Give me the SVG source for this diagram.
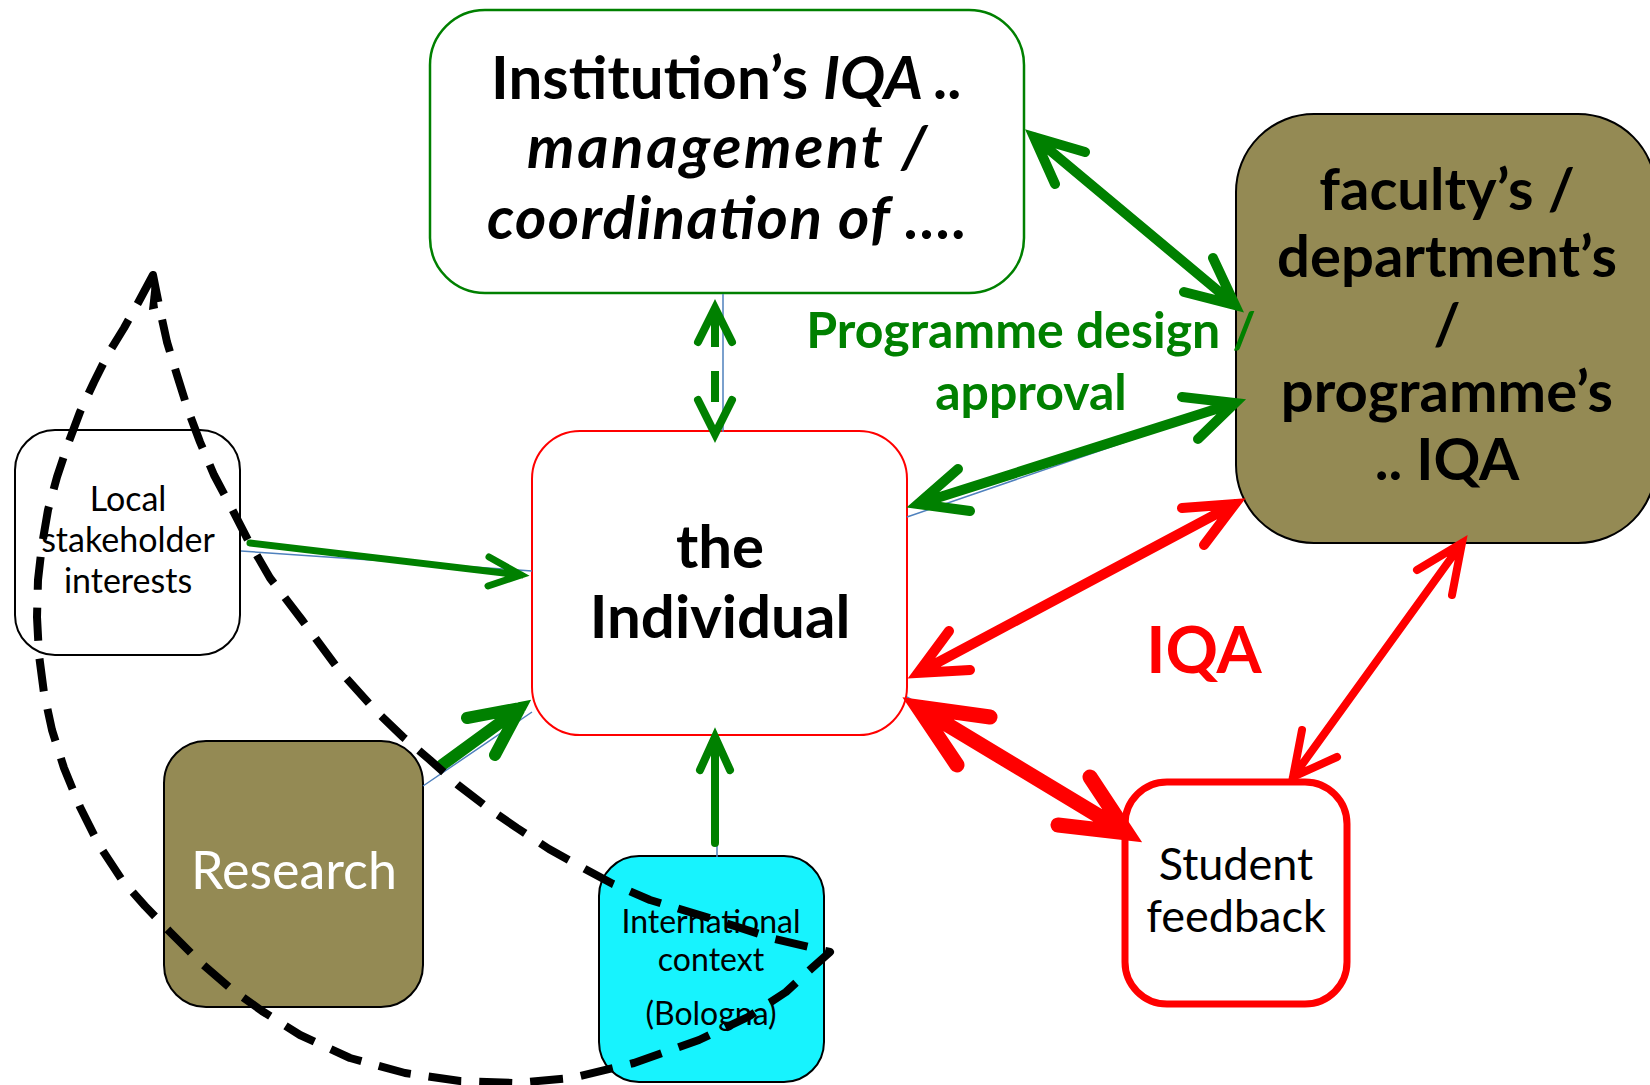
<svg xmlns="http://www.w3.org/2000/svg" width="1650" height="1085" viewBox="0 0 1650 1085">
<style>
text{font-family:Lato,"Liberation Sans",sans-serif;text-anchor:middle}
.i{font-style:italic}
.big{font-size:60px;font-weight:bold;fill:#000}
.fac{font-size:58px;font-weight:bold;fill:#000}
.sm{font-size:34px;fill:#000}
.intl{font-size:32px;fill:#000}
.stu{font-size:45px;fill:#000}
.lbl{font-size:50px;font-weight:bold;fill:#008000}
.node{stroke-width:2}
.olive{fill:#948A54;stroke:#000}
.blue{stroke:#4F81BD;stroke-width:1.5;fill:none}
.ag{stroke:#008000;fill:none;stroke-linecap:round;stroke-linejoin:miter;stroke-miterlimit:10}
.ar{stroke:#FF0000;fill:none;stroke-linecap:round;stroke-linejoin:miter;stroke-miterlimit:10}
.dash{stroke:#008000;stroke-width:8;stroke-linecap:butt;fill:none}
.curve{fill:none;stroke:#000;stroke-width:8;stroke-dasharray:33 18;stroke-linejoin:round}
</style>
<rect width="1650" height="1085" fill="#fff"/>

<g id="institution">
<rect x="430" y="10" width="594" height="283" rx="55" fill="#fff" stroke="#008000" stroke-width="2.5"/>
<text x="727" y="99" class="big" textLength="472">Institution’s <tspan class="i">IQA ..</tspan></text>
<text x="727" y="168" class="big i" textLength="400">management /</text>
<text x="727" y="239" class="big i" textLength="480">coordination of ….</text>
</g>

<g id="faculty">
<rect x="1236" y="114" width="420" height="429" rx="78" class="olive node"/>
<text x="1447" y="210" class="fac">faculty’s /</text>
<text x="1447" y="277" class="fac">department’s</text>
<text x="1447" y="345" class="fac">/</text>
<text x="1447" y="412" class="fac">programme’s</text>
<text x="1447" y="480" class="fac">.. IQA</text>
</g>

<g id="individual">
<rect x="532" y="431" width="375" height="304" rx="48" fill="#fff" stroke="#FF0000" class="node"/>
<text x="720" y="568" class="big">the</text>
<text x="720" y="638" class="big">Individual</text>
</g>

<g id="local">
<rect x="15" y="430" width="225" height="225" rx="40" fill="#fff" stroke="#000" class="node"/>
<text x="128" y="511" class="sm">Local</text>
<text x="128" y="552" class="sm">stakeholder</text>
<text x="128" y="593" class="sm">interests</text>
</g>

<g id="research">
<rect x="164" y="741" width="259" height="266" rx="42" class="olive node"/>
<text x="294" y="889" style="font-size:52px;fill:#fff">Research</text>
</g>

<g id="international">
<rect x="599" y="856" width="225" height="226" rx="40" fill="#17F3FE" stroke="#000" class="node"/>
<text x="711" y="933" class="intl">International</text>
<text x="711" y="971" class="intl">context</text>
<text x="711" y="1025" class="intl">(Bologna)</text>
</g>

<g id="student-feedback">
<rect x="1125" y="782" width="222" height="222" rx="42" fill="#fff" stroke="#FF0000" stroke-width="7"/>
<text x="1236" y="880" class="stu">Student</text>
<text x="1236" y="932" class="stu">feedback</text>
</g>

<g id="labels">
<text x="1031" y="348" class="lbl">Programme design /</text>
<text x="1031" y="410" class="lbl">approval</text>
<text x="1204" y="673" style="font-size:65px;font-weight:bold;fill:#FF0000">IQA</text>
</g>

<g id="connectors">
<path class="blue" d="M723,294 L723,432 M241,551 L532,571 M423,786 L532,712 M717,843 L717,857 M907,517 L1236,404 M907,697 L1123,832"/>
<path class="ag" stroke-width="10" d="M1085,152 L1034,137 L1055,184 M1034,137 L1235,305 M1213,258 L1235,305 L1184,292"/>
<path class="ag" stroke-width="10" d="M958,469 L918,504 L970,511 M918,504 L1235,403 M1182,397 L1235,403 L1198,439"/>
<path class="ag" stroke-width="8" d="M698,342 L715,308 L732,342 M698,400 L715,434 L732,400"/>
<path class="dash" d="M715,310 L715,347 M715,371 L715,402"/>
<path class="ag" stroke-width="7" d="M250,543 L521,575 M489,557 L521,575 L488,586"/>
<path class="ag" stroke-width="12" d="M442,765 L520,708 M467,718 L520,708 L495,755"/>
<path class="ag" stroke-width="8" d="M715,843 L715,737 M700,770 L715,737 L730,770"/>
<path class="ar" stroke-width="10" d="M970,670 L918,673 L949,631 M918,673 L1235,504 M1182,508 L1235,504 L1204,545"/>
<path class="ar" stroke-width="15" d="M990,717 L918,707 L957,765 M918,707 L1127,833 M1090,777 L1127,833 L1058,825"/>
<path class="ar" stroke-width="8" d="M1417,570 L1462,543 L1452,595 M1462,543 L1293,777 M1302,730 L1293,777 L1337,757"/>
</g>

<g id="boundary">
<path class="curve" d="M153,275 L138,303 L124,328 L108,354 L94,382 L80,412 L68,444 L57,477 L48,510 L42,545 L38,580 L37,617 L39,655 L44,693 L52,730 L64,768 L80,807 L99,845 L122,880 L145,906 L170,932 L200,962 L230,988 L262,1011 L300,1035 L350,1058 L405,1073 L460,1081 L515,1083 L572,1078 L634,1063 L699,1040 L748,1017 L786,992 L812,968 L830,952 L775,939 L716,920 L650,900 L613,884 L585,869 L549,849 L517,828 L488,808 L458,785 L430,760 L403,737 L375,710 L339,670 L302,620 L270,578 L248,540 L230,505 L214,475 L200,442 L188,410 L177,375 L167,342 L160,310 Z"/>
<polygon points="153,273 149,310 158,308" fill="#000"/>
</g>
</svg>
